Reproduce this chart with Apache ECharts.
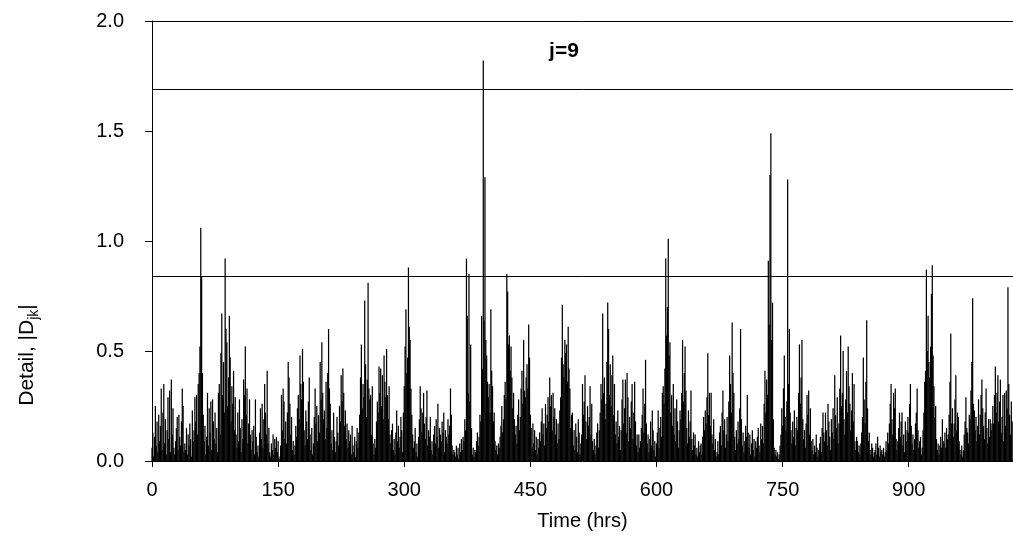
<!DOCTYPE html>
<html>
<head>
<meta charset="utf-8">
<script src="https://cdn.jsdelivr.net/npm/echarts@6.0.0/dist/echarts.min.js"></script>
<style>
html,body{margin:0;padding:0;background:#fff;}
#chart{width:1013px;height:542px;}
</style>
</head>
<body>
<div id="chart"></div>
<script>
// |D_jk| detail coefficients, one value per hour (0..1023)
const detail = [
0.06,0.13,0.02,0.11,0.25,0.07,0.18,0.04,0.21,0.09,0.16,0.33,0.05,0.22,0.35,0.08,0.19,0.03,0.14,0.29,
0.10,0.32,0.04,0.37,0.12,0.24,0.06,0.03,0.09,0.15,0.20,0.05,0.21,0.11,0.07,0.18,0.33,0.25,0.04,0.08,
0.05,0.15,0.03,0.12,0.07,0.17,0.10,0.02,0.23,0.09,0.14,0.29,0.18,0.30,0.12,0.35,0.40,0.52,1.06,0.84,
0.40,0.21,0.09,0.16,0.03,0.11,0.31,0.07,0.24,0.13,0.27,0.05,0.28,0.18,0.10,0.22,0.08,0.15,0.04,0.31,
0.35,0.12,0.49,0.67,0.30,0.45,0.22,0.92,0.60,0.54,0.25,0.38,0.66,0.47,0.18,0.34,0.26,0.41,0.14,0.29,
0.12,0.06,0.22,0.09,0.28,0.15,0.04,0.19,0.10,0.37,0.30,0.52,0.21,0.33,0.08,0.17,0.28,0.12,0.05,0.14,
0.09,0.16,0.03,0.28,0.11,0.04,0.07,0.02,0.13,0.24,0.10,0.26,0.06,0.19,0.35,0.22,0.12,0.41,0.08,0.15,
0.04,0.02,0.08,0.05,0.12,0.03,0.10,0.06,0.11,0.04,0.09,0.02,0.01,0.07,0.30,0.14,0.33,0.27,0.10,0.18,
0.08,0.22,0.45,0.38,0.26,0.12,0.20,0.05,0.09,0.03,0.07,0.16,0.11,0.24,0.30,0.19,0.48,0.35,0.28,0.51,
0.36,0.14,0.07,0.23,0.18,0.10,0.27,0.38,0.12,0.05,0.15,0.03,0.08,0.20,0.33,0.17,0.25,0.09,0.21,0.13,
0.45,0.28,0.54,0.31,0.19,0.23,0.10,0.36,0.15,0.40,0.60,0.33,0.26,0.08,0.14,0.05,0.22,0.11,0.04,0.09,
0.20,0.13,0.07,0.25,0.18,0.39,0.27,0.42,0.31,0.16,0.23,0.10,0.17,0.06,0.14,0.09,0.12,0.03,0.16,0.07,
0.04,0.11,0.02,0.09,0.15,0.06,0.13,0.21,0.38,0.53,0.24,0.35,0.29,0.73,0.44,0.20,0.37,0.81,0.33,0.28,
0.30,0.12,0.34,0.08,0.03,0.10,0.06,0.18,0.27,0.22,0.43,0.31,0.42,0.25,0.39,0.19,0.48,0.36,0.29,0.51,
0.30,0.19,0.34,0.12,0.08,0.14,0.17,0.05,0.10,0.03,0.13,0.23,0.09,0.16,0.06,0.11,0.20,0.14,0.04,0.22,
0.34,0.52,0.69,0.40,0.47,0.88,0.61,0.55,0.33,0.21,0.12,0.06,0.09,0.15,0.04,0.08,0.02,0.11,0.19,0.34,
0.24,0.13,0.22,0.31,0.17,0.10,0.20,0.32,0.07,0.14,0.11,0.20,0.05,0.09,0.03,0.12,0.16,0.08,0.19,0.11,
0.26,0.06,0.15,0.12,0.09,0.18,0.13,0.22,0.04,0.14,0.11,0.08,0.19,0.12,0.16,0.33,0.21,0.07,0.03,0.05,
0.04,0.02,0.07,0.03,0.06,0.01,0.08,0.04,0.10,0.05,0.11,0.09,0.19,0.14,0.92,0.66,0.31,0.85,0.27,0.53,
0.15,0.03,0.06,0.02,0.05,0.04,0.09,0.13,0.07,0.11,0.21,0.18,0.66,0.42,1.82,0.64,1.29,0.55,0.48,0.36,
0.29,0.35,0.22,0.69,0.41,0.34,0.18,0.22,0.09,0.05,0.07,0.03,0.08,0.06,0.11,0.16,0.25,0.13,0.19,0.30,
0.36,0.28,0.85,0.77,0.53,0.57,0.41,0.52,0.38,0.24,0.31,0.19,0.12,0.16,0.08,0.21,0.28,0.14,0.20,0.33,
0.41,0.26,0.55,0.32,0.29,0.38,0.44,0.33,0.62,0.47,0.21,0.15,0.06,0.17,0.08,0.14,0.05,0.11,0.03,0.10,
0.06,0.13,0.09,0.18,0.24,0.12,0.17,0.07,0.26,0.15,0.21,0.29,0.18,0.38,0.25,0.30,0.14,0.31,0.20,0.24,
0.12,0.19,0.08,0.17,0.10,0.23,0.29,0.47,0.71,0.44,0.38,0.55,0.49,0.53,0.36,0.61,0.42,0.33,0.15,0.21,
0.22,0.07,0.14,0.05,0.17,0.11,0.04,0.19,0.13,0.03,0.08,0.12,0.35,0.21,0.27,0.39,0.18,0.10,0.25,0.16,
0.20,0.34,0.12,0.26,0.09,0.05,0.10,0.03,0.07,0.13,0.17,0.06,0.14,0.22,0.35,0.28,0.67,0.31,0.38,0.19,
0.26,0.45,0.72,0.60,0.30,0.44,0.25,0.39,0.48,0.21,0.35,0.12,0.18,0.08,0.23,0.11,0.16,0.05,0.14,0.28,
0.37,0.17,0.24,0.37,0.13,0.40,0.29,0.09,0.20,0.15,0.27,0.35,0.10,0.22,0.36,0.18,0.07,0.12,0.04,0.12,
0.06,0.09,0.15,0.21,0.33,0.13,0.26,0.46,0.17,0.08,0.12,0.04,0.10,0.18,0.07,0.23,0.14,0.05,0.09,0.02,
0.08,0.13,0.23,0.06,0.15,0.20,0.11,0.31,0.34,0.26,0.42,0.92,0.57,0.70,1.01,0.48,0.54,0.22,0.30,0.16,
0.35,0.12,0.24,0.09,0.28,0.18,0.06,0.14,0.23,0.19,0.31,0.55,0.27,0.40,0.52,0.32,0.15,0.08,0.23,0.11,
0.18,0.32,0.10,0.05,0.13,0.07,0.12,0.03,0.06,0.02,0.09,0.04,0.07,0.08,0.03,0.11,0.20,0.14,0.23,0.17,
0.29,0.49,0.21,0.31,0.16,0.31,0.12,0.08,0.19,0.05,0.10,0.02,0.04,0.09,0.03,0.13,0.16,0.07,0.22,0.32,
0.14,0.19,0.06,0.12,0.20,0.09,0.27,0.48,0.35,0.22,0.63,0.40,0.31,0.11,0.05,0.14,0.08,0.18,0.10,0.24,
0.60,0.19,0.07,0.13,0.04,0.09,0.16,0.11,0.30,0.13,0.06,0.12,0.03,0.08,0.14,0.05,0.10,0.02,0.09,0.06,
0.11,0.15,0.07,0.04,0.17,0.10,0.16,0.08,0.26,0.41,0.22,0.37,0.30,0.91,0.62,1.30,1.49,0.55,0.72,0.19,
0.06,0.03,0.05,0.02,0.04,0.01,0.03,0.07,0.12,0.24,0.16,0.33,0.48,0.20,0.14,0.27,1.28,0.35,0.60,0.22,
0.14,0.08,0.18,0.11,0.23,0.07,0.15,0.20,0.14,0.31,0.53,0.26,0.38,0.55,0.19,0.10,0.14,0.06,0.17,0.30,
0.21,0.32,0.12,0.24,0.09,0.05,0.10,0.03,0.07,0.04,0.12,0.06,0.02,0.05,0.08,0.11,0.04,0.15,0.22,0.13,
0.09,0.22,0.14,0.07,0.26,0.18,0.11,0.05,0.19,0.13,0.24,0.10,0.39,0.21,0.15,0.29,0.08,0.17,0.33,0.57,
0.25,0.31,0.50,0.19,0.12,0.28,0.41,0.22,0.52,0.34,0.26,0.14,0.23,0.40,0.18,0.35,0.09,0.05,0.11,0.09,
0.04,0.07,0.03,0.08,0.13,0.20,0.47,0.28,0.17,0.36,0.64,0.24,0.09,0.13,0.05,0.03,0.08,0.06,0.02,0.04,
0.05,0.08,0.03,0.11,0.06,0.02,0.07,0.04,0.05,0.03,0.06,0.02,0.04,0.09,0.05,0.13,0.08,0.17,0.26,0.35,
0.19,0.12,0.31,0.24,0.33,0.10,0.05,0.09,0.15,0.22,0.11,0.18,0.22,0.07,0.12,0.04,0.18,0.09,0.14,0.20,
0.13,0.26,0.35,0.16,0.08,0.12,0.05,0.10,0.17,0.22,0.33,0.14,0.06,0.09,0.11,0.03,0.06,0.14,0.22,0.36,
0.41,0.87,0.50,0.66,0.45,0.38,0.52,0.76,0.89,0.48,0.34,0.20,0.25,0.10,0.05,0.08,0.03,0.07,0.11,0.06,
0.19,0.09,0.08,0.13,0.06,0.15,0.10,0.12,0.21,0.36,0.58,0.17,0.24,0.11,0.17,0.28,0.39,0.14,0.22,0.20,
0.09,0.05,0.03,0.07,0.02,0.05,0.12,0.18,0.29,0.15,0.13,0.08,0.21,0.19,0.32,0.45,0.74,0.26,0.23,0.14,
0.20,0.09,0.16,0.28,0.12,0.21,0.30,0.37,0.24,0.16,0.10,0.22,0.33,0.15,0.08,0.19,0.11,0.19,0.14,0.17,
0.25,0.17,0.30,0.43,0.22,0.31,0.39,0.18,0.27,0.37,0.13,0.20,0.30,0.09,0.31,0.16,0.32,0.24,0.79,0.35,
0.21,0.12,0.27,0.18
];
// threshold lines and plot top
const thresholds = [0.845, 1.69, 2.0];
const xTicks = [0, 150, 300, 450, 600, 750, 900];
const yTicks = [0.0, 0.5, 1.0, 1.5, 2.0];
const titleText = 'j=9';
const xName = 'Time (hrs)';

const FONT = 'Liberation Sans, Arial, sans-serif';
const chart = echarts.init(document.getElementById('chart'), null, {renderer: 'canvas'});
const seriesData = detail.map((v, i) => [i, v]);

chart.setOption({
  animation: false,
  backgroundColor: '#fff',
  grid: {left: 152, top: 21, right: -5, bottom: 81, containLabel: false},
  xAxis: {
    type: 'value', min: 0, max: detail.length, interval: 150,
    axisLine: {show: true, lineStyle: {color: '#000', width: 1}},
    axisTick: {show: true, length: 6, lineStyle: {color: '#000', width: 1}},
    axisLabel: {
      color: '#000', fontSize: 20, fontFamily: FONT, margin: 19, showMaxLabel: false,
      formatter: v => xTicks.includes(v) ? String(v) : ''
    },
    splitLine: {show: false},
    name: xName, nameLocation: 'middle', nameGap: 50,
    nameTextStyle: {color: '#000', fontSize: 20, fontFamily: FONT}
  },
  yAxis: {
    type: 'value', min: 0, max: 2, interval: 0.5,
    axisLine: {show: true, lineStyle: {color: '#000', width: 1}},
    axisTick: {show: true, length: 7, lineStyle: {color: '#000', width: 1}},
    axisLabel: {
      color: '#000', fontSize: 20, fontFamily: FONT, margin: 28,
      formatter: v => yTicks.includes(v) ? v.toFixed(1) : ''
    },
    splitLine: {show: false}
  },
  graphic: [
    {
      type: 'text', x: 564, y: 51,
      style: {text: titleText, fontSize: 21, fontWeight: 'bold', fontFamily: FONT, fill: '#000',
              align: 'center', verticalAlign: 'middle'}
    },
    {
      type: 'text', x: 27, y: 355, rotation: Math.PI / 2,
      style: {
        text: 'Detail, |D{s|jk}|', fontSize: 21, fontFamily: FONT, fill: '#000',
        align: 'center', verticalAlign: 'middle',
        rich: {s: {fontSize: 14, fontFamily: FONT, fill: '#000', verticalAlign: 'bottom', lineHeight: 28}}
      }
    }
  ],
  series: [{
    type: 'bar',
    data: seriesData,
    barWidth: 1.25,
    large: false,
    itemStyle: {color: '#000'},
    silent: true,
    markLine: {
      silent: true, symbol: 'none', animation: false,
      label: {show: false},
      lineStyle: {color: '#000', width: 1, type: 'solid'},
      data: thresholds.map(t => ({yAxis: t}))
    }
  }]
});
</script>
</body>
</html>
